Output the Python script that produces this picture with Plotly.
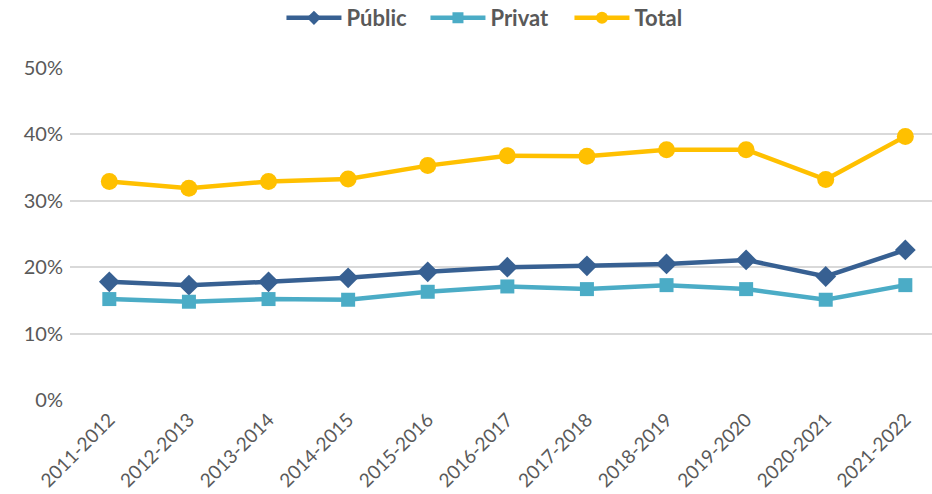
import plotly.graph_objects as go

categories = ["2011-2012", "2012-2013", "2013-2014", "2014-2015", "2015-2016",
              "2016-2017", "2017-2018", "2018-2019", "2019-2020", "2020-2021", "2021-2022"]
public = [17.8, 17.3, 17.8, 18.4, 19.3, 20.0, 20.2, 20.5, 21.1, 18.6, 22.6]
privat = [15.2, 14.8, 15.2, 15.1, 16.3, 17.1, 16.7, 17.3, 16.7, 15.1, 17.3]
total = [32.9, 31.9, 32.9, 33.3, 35.3, 36.8, 36.7, 37.7, 37.7, 33.2, 39.7]
y_ticks = [0, 10, 20, 30, 40, 50]
y_tick_text = ["0%", "10%", "20%", "30%", "40%", "50%"]

series = [
    ("Públic", public, "#376092", "diamond", 16, 11),
    ("Privat", privat, "#4BACC6", "square", 14, 11),
    ("Total", total, "#FFC000", "circle", 17, 12),
]

FONT = "Lato, 'Noto Sans', sans-serif"
GREY = "#595959"

fig = go.Figure()
for name, vals, color, sym, msize, lsize in series:
    fig.add_trace(go.Scatter(x=categories, y=vals, name=name, mode="lines+markers",
                             legendgroup=name, showlegend=False,
                             line=dict(color=color, width=4.5),
                             marker=dict(symbol=sym, size=msize, color=color)))
for name, vals, color, sym, msize, lsize in series:
    fig.add_trace(go.Scatter(x=[None], y=[None], name=name, mode="lines+markers",
                             legendgroup=name, showlegend=True,
                             line=dict(color=color, width=4.5),
                             marker=dict(symbol=sym, size=lsize, color=color)))

fig.update_layout(
    width=932, height=494,
    margin=dict(l=70, r=0, t=68, b=94, autoexpand=False),
    paper_bgcolor="white", plot_bgcolor="white",
    font=dict(family=FONT, color=GREY),
    showlegend=True,
    legend=dict(orientation="h", xref="container", yref="container",
                x=0.302, xanchor="left", y=1 - 18 / 494, yanchor="middle",
                font=dict(family=FONT, size=22, color=GREY, weight="bold"),
                itemwidth=55, entrywidth=74, tracegroupgap=0, traceorder="normal"),
    xaxis=dict(type="category", range=[-0.494, 10.335], tickangle=-45, automargin=False,
               tickfont=dict(family=FONT, size=19, color=GREY), ticklabelstandoff=4,
               showgrid=False, zeroline=False, showline=False, ticks=""),
    yaxis=dict(range=[0, 50], tickmode="array", tickvals=y_ticks, ticktext=y_tick_text,
               automargin=False,
               tickfont=dict(family=FONT, size=20, color=GREY),
               showgrid=True, gridcolor="#D9D9D9", gridwidth=1.5,
               zeroline=False, showline=False, ticks="", ticklabelstandoff=6),
)

fig.write_html("out.html", config={"displayModeBar": False},
               post_script="document.body.style.margin='0';")
